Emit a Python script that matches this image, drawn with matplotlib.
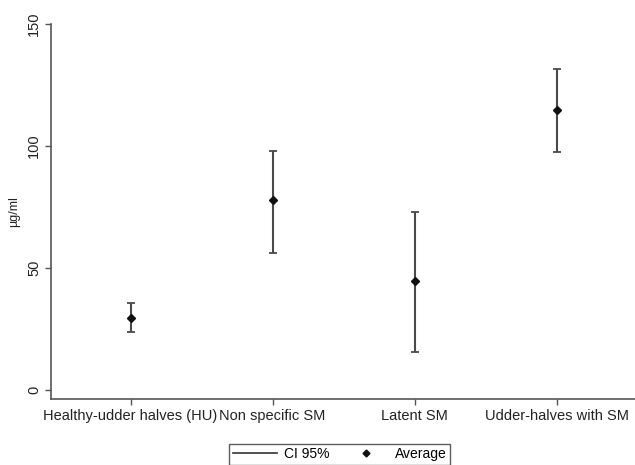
import matplotlib
matplotlib.use("Agg")
import matplotlib.pyplot as plt
from matplotlib.lines import Line2D

plt.rcParams['font.family'] = ['Liberation Sans', 'DejaVu Sans']

groups = ["Healthy-udder halves (HU)", "Non specific SM", "Latent SM", "Udder-halves with SM"]
average = [29.6, 78.0, 44.7, 114.8]
ci_low = [23.6, 56.1, 15.7, 97.7]
ci_high = [35.6, 98.1, 73.0, 131.4]

x = list(range(1, len(groups) + 1))
err_lo = [a - l for a, l in zip(average, ci_low)]
err_hi = [h - a for a, h in zip(average, ci_high)]

fig = plt.figure(figsize=(6.35, 4.65), dpi=100)
ax = fig.add_axes([0.0803, 0.1419, 0.9197, 0.8065])

ax.errorbar(x, average, yerr=[err_lo, err_hi], fmt='none', ecolor='#4a4a4a',
            elinewidth=1.5, capsize=3, capthick=1.3)
ax.plot(x, average, 'D', color='#111111', markersize=4.5, linestyle='none')

ax.set_xlim(0.44, 4.55)
ax.set_ylim(-3.7, 150)
ax.set_yticks([0, 50, 100, 150])
ax.set_xticks(x)
ax.set_xticklabels(groups, fontsize=10.5, color='#222222')
for lab in ax.get_yticklabels():
    lab.set_rotation(90)
    lab.set_va('center')
    lab.set_fontsize(10.5)
    lab.set_color('#222222')
ax.set_ylabel("µg/ml", fontsize=9, color='#222222', labelpad=5)

for s in ['top', 'right']:
    ax.spines[s].set_visible(False)
for s in ['left', 'bottom']:
    ax.spines[s].set_color('#555555')
    ax.spines[s].set_linewidth(1.2)
ax.tick_params(axis='both', length=4, width=1, color='#555555', pad=3)

handles = [Line2D([0], [0], color='#333333', lw=1.2),
           Line2D([0], [0], marker='D', color='#111111', markersize=3.5, linestyle='none')]
fig.legend(handles, ["CI 95%", "Average"], loc='upper center', bbox_to_anchor=(0.535, 0.046),
           ncol=2, frameon=True, fancybox=False, edgecolor='#333333', fontsize=10,
           handlelength=3.2, handletextpad=0.5, columnspacing=1.0, borderpad=0.25,
           borderaxespad=0)

fig.savefig("out.png", dpi=100)
